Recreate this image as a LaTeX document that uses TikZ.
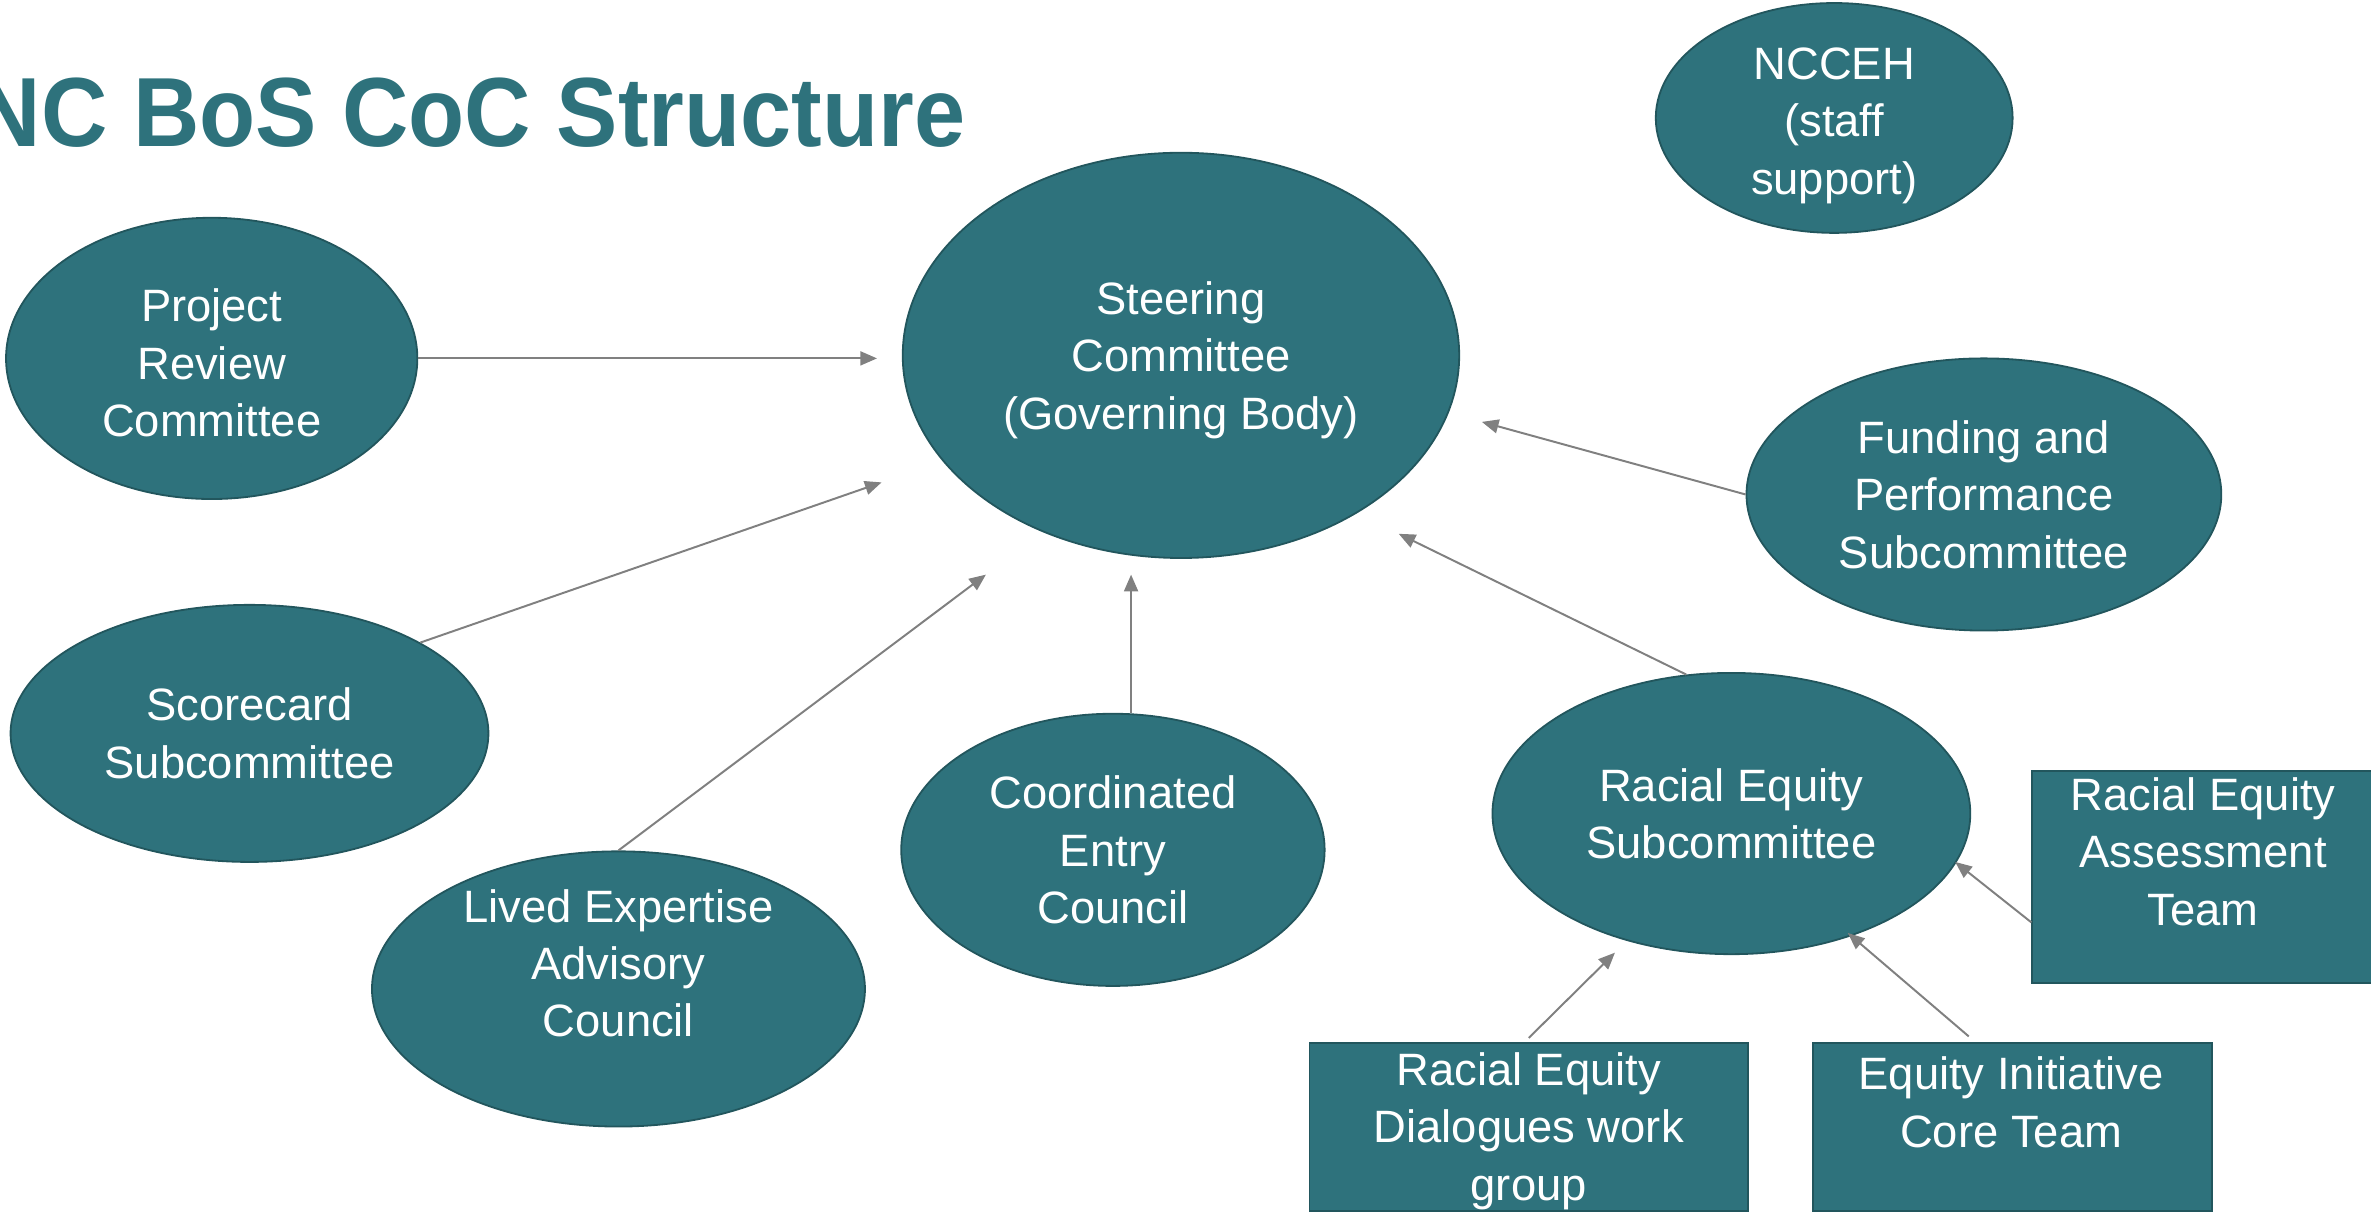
\documentclass[tikz,border=0pt]{standalone}
\usepackage{fontspec}
\setmainfont{Liberation Sans}
\newfontfamily\titlefont{Liberation Sans}[FakeStretch=0.935]
\usetikzlibrary{shapes.geometric,arrows.meta,calc}
\definecolor{tealfill}{HTML}{2E727C}
\definecolor{tealedge}{HTML}{22565D}
\definecolor{arrgray}{HTML}{808080}
\newcommand{\diagfont}{\fontsize{15pt}{19pt}\selectfont}
\begin{document}
\begin{tikzpicture}[x=0.5pt,y=-0.5pt,
  ell/.style={ellipse, fill=tealfill, draw=tealedge, line width=0.6pt, inner sep=0pt,
    text=white, align=center, font=\diagfont},
  orgbox/.style={rectangle, fill=tealfill, draw=tealedge, line width=0.6pt, inner sep=0pt,
    text=white, align=center, font=\diagfont},
  lbl/.style={text=white, align=center, font=\diagfont, inner sep=0pt},
  arr/.style={draw=arrgray, line width=0.65pt, -{Triangle[length=5.5pt,width=4.6pt]}}]
\useasboundingbox (0,0) rectangle (1568,802.85);
% title
\node[anchor=base west, inner sep=0pt, text=tealfill,
  font={\fontsize{32.5pt}{39pt}\titlefont\bfseries}] (title) at (-17,97) {NC BoS CoC Structure};
% ellipses
\node[ell, minimum width=118pt, minimum height=76pt] (ncceh) at (1213,78) {};
\node[lbl] (ncceh-t) at (1213,83) {NCCEH\\(staff\\support)};
\node[ell, minimum width=184pt, minimum height=134pt] (sc) at (781,235) {};
\node[lbl] (sc-t) at (781,238) {Steering\\Committee\\(Governing Body)};
\node[ell, minimum width=136pt, minimum height=93pt] (prc) at (140,237) {};
\node[lbl] (prc-t) at (140,240) {Project\\Review\\Committee};
\node[ell, minimum width=157pt, minimum height=90pt] (fps) at (1312,327) {Funding and\\Performance\\Subcommittee};
\node[ell, minimum width=158pt, minimum height=85pt] (ssc) at (165,485) {Scorecard\\Subcommittee};
\node[ell, minimum width=140pt, minimum height=90pt] (cec) at (736,562) {Coordinated\\Entry\\Council};
\node[ell, minimum width=158pt, minimum height=93pt] (res) at (1145,538) {Racial Equity\\Subcommittee};
\node[ell, minimum width=163pt, minimum height=91pt] (lea) at (409,654) {};
\node[lbl] (lea-t) at (409,637) {Lived Expertise\\Advisory\\Council};
% boxes
\node[orgbox, minimum width=113pt, minimum height=70pt] (reat) at (1457,580) {};
\node[lbl] (reat-t) at (1457,563) {Racial Equity\\Assessment\\Team};
\node[orgbox, minimum width=145pt, minimum height=55.5pt] (rdw) at (1011,745.5) {};
\node[lbl] (rdw-t) at (1011,748) {Racial Equity\\Dialogues work\\group};
\node[orgbox, minimum width=132pt, minimum height=55.5pt] (eict) at (1331,745.5) {};
\node[lbl] (eict-t) at (1330,729) {Equity Initiative\\Core Team};
% arrow tips
\coordinate (e1) at (580,237);
\coordinate (e2) at (583,319);
\coordinate (e3) at (652,380);
\coordinate (e4) at (748,380);
\coordinate (e5) at (925,353);
\coordinate (e6) at (980,279);
\coordinate (e7) at (1068,630);
\coordinate (e8) at (1222,617);
\coordinate (e9) at (1293,570);
% connectors
\draw[arr] (prc.east) -- (e1);
\draw[arr] (ssc.28) -- (e2);
\draw[arr] (lea.north) -- (e3);
\draw[arr] (cec.north -| e4) -- (e4);
\draw[arr] (res.108) -- (e5);
\draw[arr] (fps.west) -- (e6);
\draw[arr] ([yshift=1.5pt]rdw.north) -- (e7);
\draw[arr] ([xshift=-14.5pt,yshift=2pt]eict.north) -- (e8);
\draw[arr] ([yshift=-15pt]reat.west) -- (e9);
\end{tikzpicture}
\end{document}
